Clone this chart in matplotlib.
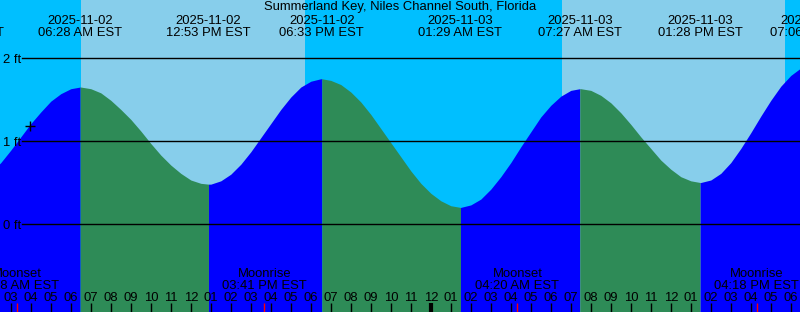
from datetime import datetime
import numpy as np
import matplotlib
matplotlib.use("Agg")
import matplotlib.pyplot as plt

plt.rcParams['font.family'] = ['Liberation Sans', 'DejaVu Sans']

title = "Summerland Key, Niles Channel South, Florida"
t0 = datetime(2025, 11, 2)

# tide extremes (EST) and heights in ft
tide_times = ["2025-11-02 12:33 AM", "2025-11-02 06:28 AM", "2025-11-02 12:53 PM",
              "2025-11-02 06:33 PM", "2025-11-03 01:29 AM", "2025-11-03 07:27 AM",
              "2025-11-03 01:28 PM", "2025-11-03 07:06 PM"]
tide_heights = [0.45, 1.65, 0.48, 1.75, 0.20, 1.63, 0.50, 1.92]

# height every half hour, starting 01:00 on 11-02
reading_step = 0.5
readings = [0.47, 0.52, 0.62, 0.74, 0.89, 1.05, 1.21, 1.35, 1.48, 1.57,
            1.63, 1.65, 1.63, 1.58, 1.49, 1.38, 1.26, 1.12, 0.97, 0.83,
            0.71, 0.61, 0.53, 0.49, 0.48, 0.52, 0.60, 0.72, 0.87, 1.04,
            1.21, 1.38, 1.53, 1.65, 1.72, 1.75, 1.73, 1.68, 1.59, 1.47,
            1.32, 1.15, 0.98, 0.81, 0.64, 0.49, 0.37, 0.28, 0.22, 0.20,
            0.23, 0.30, 0.42, 0.57, 0.74, 0.93, 1.11, 1.29, 1.43, 1.54,
            1.61, 1.63, 1.61, 1.55, 1.46, 1.34, 1.20, 1.05, 0.91, 0.77,
            0.66, 0.57, 0.52, 0.50, 0.53, 0.61, 0.74, 0.91, 1.10, 1.30,
            1.49, 1.66, 1.79, 1.88, 1.92]

sun_times = ["2025-11-02 06:31 AM", "2025-11-02 05:43 PM",
             "2025-11-03 06:34 AM", "2025-11-03 05:42 PM"]

moon_kinds = ["Moonset", "Moonrise", "Moonset", "Moonrise"]
moon_times = ["2025-11-02 03:18 AM", "2025-11-02 03:41 PM",
              "2025-11-03 04:20 AM", "2025-11-03 04:18 PM"]

mark_time, mark_height = 3.95, 1.18
levels = [0, 1, 2]

night = "#00BFFF"
day = "#87CEEB"
flood = "#0000FF"
ebb = "#2E8B57"
fs = 9.4


def hours(s):
    return (datetime.strptime(s, "%Y-%m-%d %I:%M %p") - t0).total_seconds() / 3600


def ypx(y):
    # pixel row (from top) -> feet
    return (224 - y) / 83


tide_h = np.array([hours(s) for s in tide_times])
read_h = 1 + reading_step * np.arange(len(readings))
t = np.concatenate([read_h, tide_h])
z = np.concatenate([readings, tide_heights])
order = np.argsort(t, kind='stable')
t, z = t[order], z[order]

x0, x1 = 2.46, 42.46
fig = plt.figure(figsize=(8, 3.12), dpi=100)
ax = fig.add_axes([0, 0, 1, 1])
ax.set_xlim(x0, x1)
ax.set_ylim(ypx(312), ypx(0))
ax.axis('off')
ax.axvspan(x0, x1, color=night, lw=0, zorder=0)

sun_h = [hours(s) for s in sun_times]
for a, b in zip(sun_h[::2], sun_h[1::2]):
    ax.axvspan(a, b, color=day, lw=0, zorder=1)

for i in range(len(tide_h) - 1):
    a, b = tide_h[i], tide_h[i + 1]
    m = (t >= a) & (t <= b)
    col = flood if tide_heights[i + 1] > tide_heights[i] else ebb
    ax.fill_between(t[m], ypx(320), z[m], color=col, lw=0, zorder=2)

for lv in levels:
    ax.axhline(lv, xmin=22 / 800, color='black', lw=1, zorder=3)
    fig.text(2.7 / 800, 1 - (224 - 83 * lv + 5) / 312, f"{lv} ft",
             fontsize=fs, va='baseline', ha='left')

ax.plot(mark_time, mark_height, '+', color='black', ms=7, mew=1, zorder=4)

fig.text(0.5, 1 - 10.3 / 312, title, fontsize=fs, ha='center', va='baseline')
for s, h in zip(tide_times, tide_h):
    d, tm = s[:10], s[11:] + " EST"
    ax.text(h, ypx(24), d, fontsize=fs, ha='center', va='baseline', zorder=5)
    ax.text(h, ypx(36), tm, fontsize=fs, ha='center', va='baseline', zorder=5)

# hour ticks and labels
for h in range(1, 44):
    lab = f"{(h - 1) % 12 + 1:02d}"
    ax.text(h, ypx(300.7), lab, fontsize=fs, ha='center', va='baseline', zorder=5)
    ax.vlines(h, ypx(312), ypx(303), color='black', lw=3 if h % 24 == 0 else 1, zorder=5)

for k, s in zip(moon_kinds, moon_times):
    h = hours(s)
    ax.text(h, ypx(277.3), k, fontsize=fs, ha='center', va='baseline', zorder=5)
    ax.text(h, ypx(289.3), s[11:] + " EST", fontsize=fs, ha='center', va='baseline', zorder=5)
    ax.vlines(h, ypx(312), ypx(303), color='red', lw=1, zorder=6)

fig.savefig("out.png", dpi=100)
